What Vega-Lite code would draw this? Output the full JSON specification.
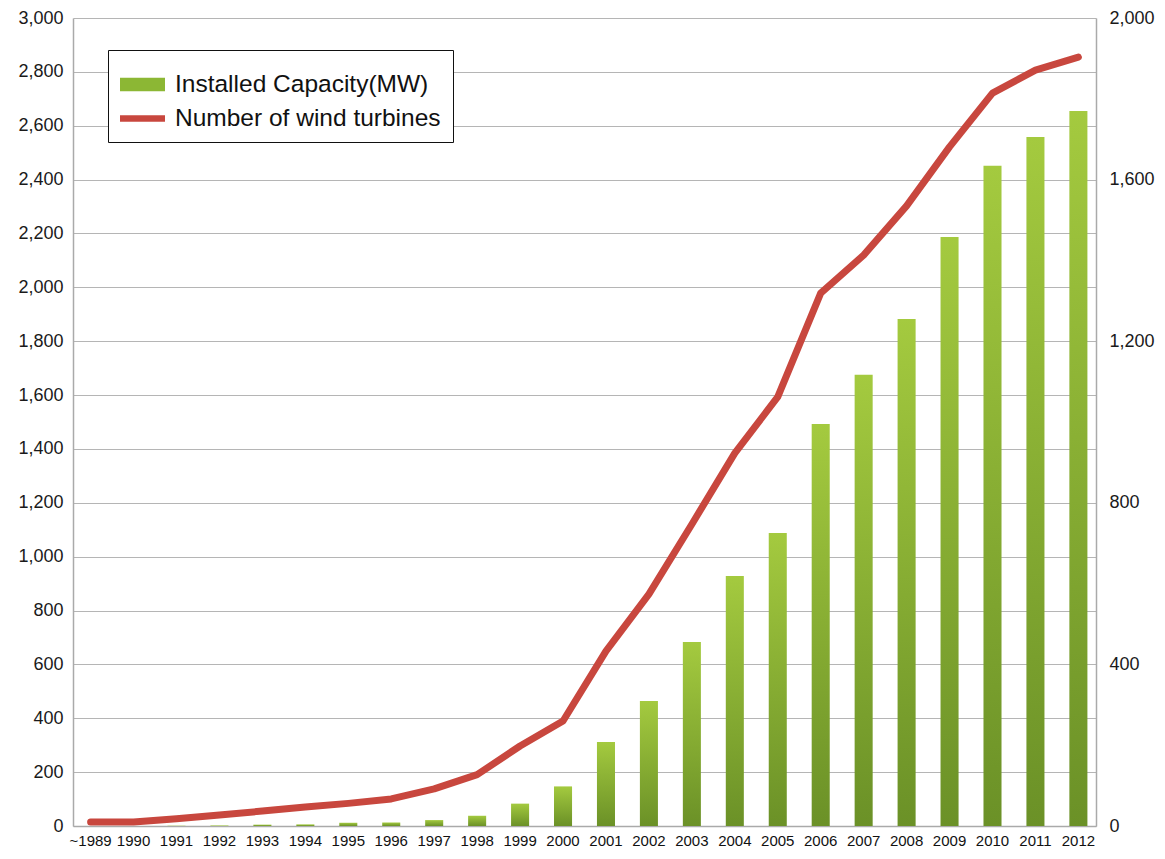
{
  "$schema": "https://vega.github.io/schema/vega-lite/v6.json",
  "width": 1023,
  "height": 808,
  "autosize": {"type": "none"},
  "padding": {"left": 73, "top": 18, "right": 69, "bottom": 33},
  "background": "white",
  "config": {
    "font": "Liberation Sans",
    "view": {"stroke": null},
    "axis": {"labelColor": "#1a1a1a", "labelFontSize": 18, "ticks": false, "title": null}
  },
  "data": {
    "values": [
      {"year": "~1989", "capacity": 0, "turbines": 10, "series": "Number of wind turbines"},
      {"year": "1990", "capacity": 0, "turbines": 10, "series": "Number of wind turbines"},
      {"year": "1991", "capacity": 1, "turbines": 18, "series": "Number of wind turbines"},
      {"year": "1992", "capacity": 2, "turbines": 27, "series": "Number of wind turbines"},
      {"year": "1993", "capacity": 5, "turbines": 37, "series": "Number of wind turbines"},
      {"year": "1994", "capacity": 6, "turbines": 47, "series": "Number of wind turbines"},
      {"year": "1995", "capacity": 12, "turbines": 56, "series": "Number of wind turbines"},
      {"year": "1996", "capacity": 13, "turbines": 67, "series": "Number of wind turbines"},
      {"year": "1997", "capacity": 22, "turbines": 92, "series": "Number of wind turbines"},
      {"year": "1998", "capacity": 38, "turbines": 127, "series": "Number of wind turbines"},
      {"year": "1999", "capacity": 83, "turbines": 198, "series": "Number of wind turbines"},
      {"year": "2000", "capacity": 147, "turbines": 260, "series": "Number of wind turbines"},
      {"year": "2001", "capacity": 312, "turbines": 433, "series": "Number of wind turbines"},
      {"year": "2002", "capacity": 464, "turbines": 574, "series": "Number of wind turbines"},
      {"year": "2003", "capacity": 683, "turbines": 747, "series": "Number of wind turbines"},
      {"year": "2004", "capacity": 928, "turbines": 923, "series": "Number of wind turbines"},
      {"year": "2005", "capacity": 1088, "turbines": 1062, "series": "Number of wind turbines"},
      {"year": "2006", "capacity": 1493, "turbines": 1319, "series": "Number of wind turbines"},
      {"year": "2007", "capacity": 1675, "turbines": 1413, "series": "Number of wind turbines"},
      {"year": "2008", "capacity": 1882, "turbines": 1535, "series": "Number of wind turbines"},
      {"year": "2009", "capacity": 2187, "turbines": 1681, "series": "Number of wind turbines"},
      {"year": "2010", "capacity": 2451, "turbines": 1814, "series": "Number of wind turbines"},
      {"year": "2011", "capacity": 2558, "turbines": 1871, "series": "Number of wind turbines"},
      {"year": "2012", "capacity": 2655, "turbines": 1903, "series": "Number of wind turbines"}
    ]
  },
  "encoding": {
    "x": {
      "field": "year",
      "type": "nominal",
      "sort": null,
      "scale": {"paddingInner": 0.58, "paddingOuter": 0.2},
      "axis": {
        "labelAngle": 0,
        "labelFontSize": 15,
        "labelPadding": 7,
        "labelColor": "#111111",
        "domainColor": "#aaaaaa",
        "domainWidth": 1.5,
        "grid": false
      }
    }
  },
  "layer": [
    {
      "mark": {
        "type": "bar",
        "color": {
          "gradient": "linear",
          "x1": 0, "y1": 0, "x2": 0, "y2": 1,
          "stops": [
            {"offset": 0, "color": "#a4ca3f"},
            {"offset": 1, "color": "#6b9127"}
          ]
        }
      },
      "encoding": {
        "y": {
          "field": "capacity",
          "type": "quantitative",
          "scale": {"domain": [0, 3000], "nice": false},
          "axis": {
            "orient": "left",
            "values": [0, 200, 400, 600, 800, 1000, 1200, 1400, 1600, 1800, 2000, 2200, 2400, 2600, 2800, 3000],
            "format": ",.0f",
            "grid": true,
            "gridColor": "#b5b5b5",
            "gridWidth": 1.2,
            "domainColor": "#aaaaaa",
            "domainWidth": 1.5,
            "labelPadding": 10
          }
        }
      }
    },
    {
      "mark": {"type": "line", "strokeWidth": 7, "strokeCap": "round", "strokeJoin": "round"},
      "encoding": {
        "y": {
          "field": "turbines",
          "type": "quantitative",
          "scale": {"domain": [0, 2000], "nice": false},
          "axis": {
            "orient": "right",
            "values": [0, 400, 800, 1200, 1600, 2000],
            "format": ",.0f",
            "grid": false,
            "domainColor": "#aaaaaa",
            "domainWidth": 1.5,
            "labelPadding": 13
          }
        },
        "color": {
          "field": "series",
          "type": "nominal",
          "scale": {
            "domain": ["Installed Capacity(MW)", "Number of wind turbines"],
            "range": ["#8cb734", "#c8473e"]
          },
          "legend": {
            "title": null,
            "orient": "none",
            "legendX": 35,
            "legendY": 32,
            "padding": 12,
            "strokeColor": "#111111",
            "fillColor": "white",
            "labelFontSize": 24.5,
            "labelColor": "#111111",
            "labelLimit": 400,
            "labelOffset": 10,
            "rowPadding": 0,
            "symbolSize": 2025,
            "symbolStrokeWidth": 0,
            "encode": {
              "symbols": {
                "update": {
                  "shape": {"signal": "datum.value === 'Installed Capacity(MW)' ? 'M-1,-0.3H1V0.3H-1Z' : 'M-1,-0.14H1V0.14H-1Z'"},
                  "fill": {"signal": "datum.value === 'Installed Capacity(MW)' ? '#8cb734' : '#c8473e'"},
                  "strokeWidth": {"value": 0}
                }
              }
            }
          }
        }
      }
    }
  ],
  "resolve": {"scale": {"y": "independent"}}
}
